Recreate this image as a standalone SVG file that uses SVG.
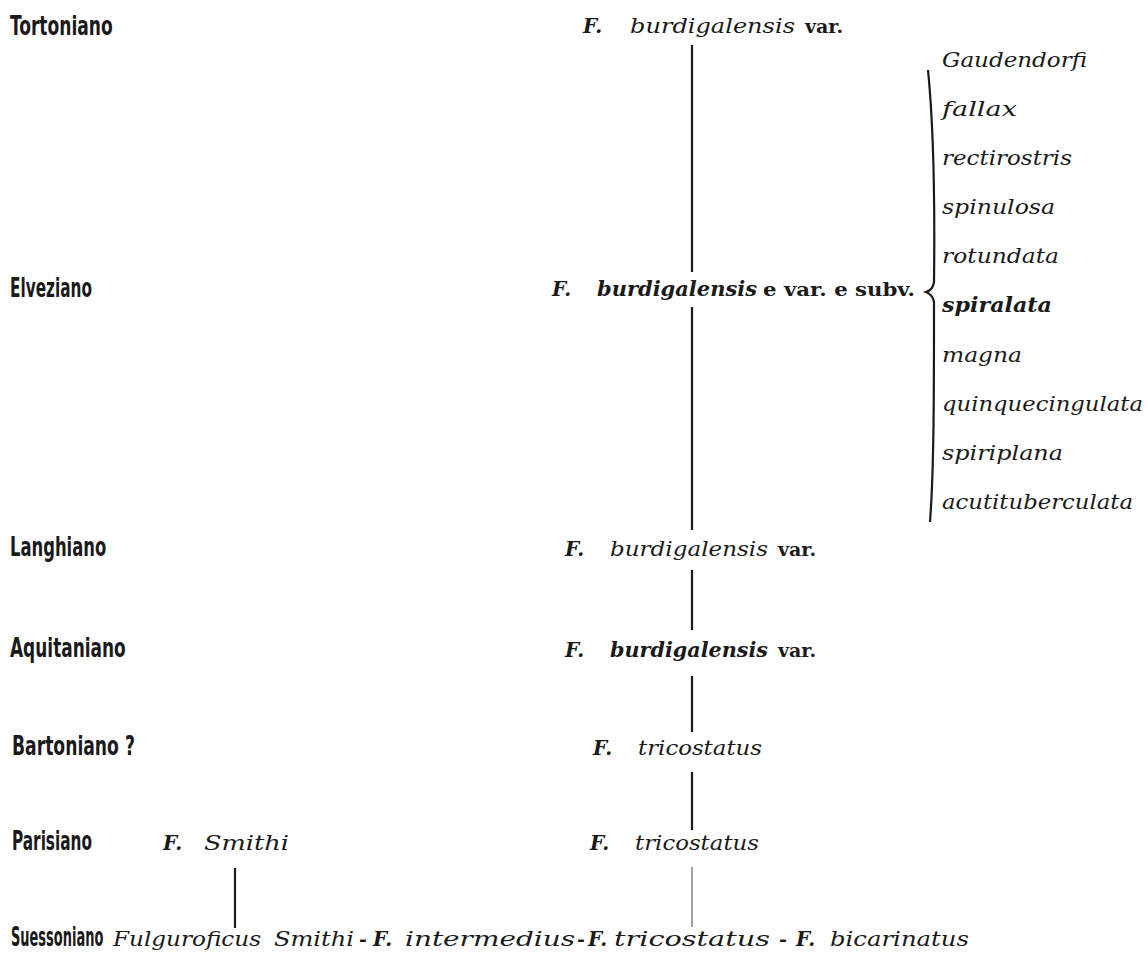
<svg xmlns="http://www.w3.org/2000/svg" width="1147" height="956" viewBox="0 0 1147 956">
<style>
.st{font-family:"Liberation Sans Narrow","DejaVu Sans Condensed","Liberation Sans",sans-serif;font-weight:bold;font-size:27px;fill:#1a1a1a}
.it{font-family:"DejaVu Serif","Liberation Serif",serif;font-style:italic;font-size:20px;fill:#1a1a1a}
.bi{font-family:"DejaVu Serif","Liberation Serif",serif;font-style:italic;font-weight:bold;font-size:20px;fill:#1a1a1a}
.rm{font-family:"DejaVu Serif","Liberation Serif",serif;font-weight:bold;font-size:19px;fill:#1a1a1a}
.ln{stroke:#1a1a1a;stroke-width:2.2;fill:none}
.thin{stroke:#555;stroke-width:1.1;fill:none}
</style>
<rect width="1147" height="956" fill="#ffffff"/>

<g id="stages">
<text class="st" transform="translate(10,35) scale(0.65,1)" textLength="158" lengthAdjust="spacingAndGlyphs">Tortoniano</text>
<text class="st" transform="translate(10,297) scale(0.65,1)" textLength="126" lengthAdjust="spacingAndGlyphs">Elveziano</text>
<text class="st" transform="translate(10,556) scale(0.65,1)" textLength="148" lengthAdjust="spacingAndGlyphs">Langhiano</text>
<text class="st" transform="translate(10,657) scale(0.65,1)" textLength="178" lengthAdjust="spacingAndGlyphs">Aquitaniano</text>
<text class="st" transform="translate(12,755) scale(0.65,1)" textLength="189" lengthAdjust="spacingAndGlyphs">Bartoniano ?</text>
<text class="st" transform="translate(12,850) scale(0.65,1)" textLength="123" lengthAdjust="spacingAndGlyphs">Parisiano</text>
<text class="st" transform="translate(11,946) scale(0.65,1)" textLength="142" lengthAdjust="spacingAndGlyphs">Suessoniano</text>
</g>

<g id="node-tortoniano">
<text class="bi" x="583" y="33">F.</text>
<text class="it" x="630" y="33" textLength="165" lengthAdjust="spacingAndGlyphs">burdigalensis</text>
<text class="rm" x="805" y="33">var.</text>
</g>

<g id="node-elveziano">
<text class="bi" x="552" y="296">F.</text>
<text class="bi" x="597" y="296" textLength="160" lengthAdjust="spacingAndGlyphs">burdigalensis</text>
<text class="rm" x="763" y="296" textLength="152" lengthAdjust="spacingAndGlyphs">e var. e subv.</text>
</g>

<g id="node-langhiano">
<text class="bi" x="565" y="556">F.</text>
<text class="it" x="610" y="556" textLength="158" lengthAdjust="spacingAndGlyphs">burdigalensis</text>
<text class="rm" x="778" y="556">var.</text>
</g>

<g id="node-aquitaniano">
<text class="bi" x="565" y="657">F.</text>
<text class="bi" x="610" y="657" textLength="158" lengthAdjust="spacingAndGlyphs">burdigalensis</text>
<text class="rm" x="778" y="657">var.</text>
</g>

<g id="node-bartoniano">
<text class="bi" x="593" y="755">F.</text>
<text class="it" x="638" y="755" textLength="124" lengthAdjust="spacingAndGlyphs">tricostatus</text>
</g>

<g id="node-parisiano-tricostatus">
<text class="bi" x="590" y="850">F.</text>
<text class="it" x="635" y="850" textLength="124" lengthAdjust="spacingAndGlyphs">tricostatus</text>
</g>

<g id="node-parisiano-smithi">
<text class="bi" x="163" y="850">F.</text>
<text class="it" x="204" y="850" textLength="85" lengthAdjust="spacingAndGlyphs">Smithi</text>
</g>

<g id="node-suessoniano">
<text class="it" x="113" y="946" textLength="148" lengthAdjust="spacingAndGlyphs">Fulguroficus</text>
<text class="it" x="274" y="946" textLength="80" lengthAdjust="spacingAndGlyphs">Smithi</text>
<text class="rm" x="359" y="946">-</text>
<text class="bi" x="373" y="946">F.</text>
<text class="it" x="405" y="946" textLength="170" lengthAdjust="spacingAndGlyphs">intermedius</text>
<text class="rm" x="577" y="946">-</text>
<text class="bi" x="588" y="946">F.</text>
<text class="it" x="614" y="946" textLength="156" lengthAdjust="spacingAndGlyphs">tricostatus</text>
<text class="rm" x="779" y="946">-</text>
<text class="bi" x="796" y="946">F.</text>
<text class="it" x="830" y="946" textLength="139" lengthAdjust="spacingAndGlyphs">bicarinatus</text>
</g>

<g id="node-varieties">
<text class="it" x="942" y="67" textLength="145" lengthAdjust="spacingAndGlyphs">Gaudendorfi</text>
<text class="it" x="942" y="116" textLength="75" lengthAdjust="spacingAndGlyphs">fallax</text>
<text class="it" x="942" y="165" textLength="130" lengthAdjust="spacingAndGlyphs">rectirostris</text>
<text class="it" x="942" y="214" textLength="113" lengthAdjust="spacingAndGlyphs">spinulosa</text>
<text class="it" x="942" y="263" textLength="117" lengthAdjust="spacingAndGlyphs">rotundata</text>
<text class="bi" x="942" y="312" textLength="110" lengthAdjust="spacingAndGlyphs">spiralata</text>
<text class="it" x="942" y="362" textLength="80" lengthAdjust="spacingAndGlyphs">magna</text>
<text class="it" x="942" y="411" textLength="201" lengthAdjust="spacingAndGlyphs">quinquecingulata</text>
<text class="it" x="942" y="460" textLength="121" lengthAdjust="spacingAndGlyphs">spiriplana</text>
<text class="it" x="942" y="509" textLength="191" lengthAdjust="spacingAndGlyphs">acutituberculata</text>
</g>

<g id="connectors">
<line class="ln" x1="692" y1="45" x2="692" y2="272"/>
<line class="ln" x1="692" y1="307" x2="692" y2="530"/>
<line class="ln" x1="692" y1="570" x2="692" y2="630"/>
<line class="ln" x1="692" y1="676" x2="692" y2="732"/>
<line class="ln" x1="692" y1="772" x2="692" y2="830"/>
<line class="thin" x1="692" y1="867" x2="692" y2="927"/>
<line class="ln" x1="235" y1="868" x2="235" y2="928"/>
<path class="ln" d="M928 70 C933 120 935 200 934 282 Q933 290 926 292 Q933 295 934 302 C934 390 934 470 930 522"/>
</g>
</svg>
